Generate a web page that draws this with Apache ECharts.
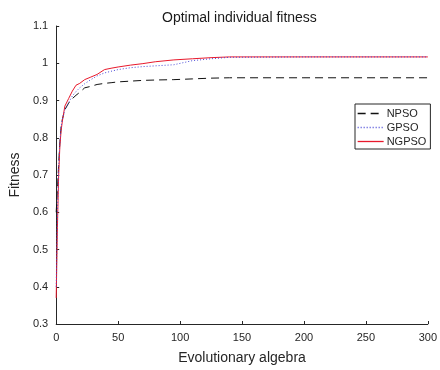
<!DOCTYPE html>
<html>
<head>
<meta charset="utf-8">
<script src="https://cdn.jsdelivr.net/npm/echarts@6/dist/echarts.min.js"></script>
<style>html,body{margin:0;padding:0;background:#fff}#c{width:440px;height:370px}</style>
</head>
<body>
<div id="c"></div>
<script>
const generations = [0, 1, 2, 3, 4, 5, 7, 10, 13, 16, 19, 23, 28, 33, 39, 45, 50, 60, 70, 80, 95, 110, 125, 140, 200, 300];
const npso  = [0.60, 0.66, 0.73, 0.79, 0.83, 0.85, 0.875, 0.893, 0.905, 0.914, 0.922, 0.934, 0.938, 0.943, 0.946, 0.948, 0.950, 0.952, 0.954, 0.955, 0.956, 0.958, 0.960, 0.961, 0.961, 0.961];
const gpso  = [0.40, 0.60, 0.72, 0.79, 0.83, 0.85, 0.875, 0.894, 0.912, 0.924, 0.934, 0.945, 0.956, 0.966, 0.974, 0.979, 0.983, 0.988, 0.991, 0.993, 0.996, 1.007, 1.012, 1.016, 1.017, 1.017];
const ngpso = [0.37, 0.56, 0.70, 0.78, 0.82, 0.845, 0.885, 0.905, 0.925, 0.941, 0.946, 0.956, 0.963, 0.970, 0.983, 0.987, 0.990, 0.995, 0.999, 1.004, 1.009, 1.012, 1.015, 1.017, 1.017, 1.017];
const seriesNames = ['NPSO', 'GPSO', 'NGPSO'];
const xTicks = [0, 50, 100, 150, 200, 250, 300];
const yTicks = [0.3, 0.4, 0.5, 0.6, 0.7, 0.8, 0.9, 1.0, 1.1];

const pair = (ys) => generations.map((g, i) => [g, ys[i]]);
const axisColor = '#262626';
const font = 'Liberation Sans, Arial, sans-serif';
const colors = ['#111111', '#4a4ad8', '#e8192c'];
const dashes = [[8, 5], [1, 2], 'solid'];

const chart = echarts.init(document.getElementById('c'), null, {renderer: 'canvas'});
chart.setOption({
  animation: false,
  backgroundColor: '#fff',
  color: colors,
  title: {
    text: 'Optimal individual fitness',
    left: 157, top: 6,
    textStyle: {fontSize: 14, fontWeight: 'normal', color: '#1a1a1a', fontFamily: font}
  },
  grid: {left: 52, right: 7, top: 26, bottom: 44, containLabel: false},
  legend: {
    data: seriesNames,
    orient: 'vertical',
    left: 355, top: 104,
    itemWidth: 26, itemHeight: 11, itemGap: 3,
    padding: [4, 4, 2, 2],
    borderColor: axisColor, borderWidth: 1,
    backgroundColor: '#fff',
    itemStyle: {opacity: 0},
    lineStyle: {width: 1.3, color: 'inherit', type: 'inherit', opacity: 1},
    textStyle: {fontSize: 11, color: axisColor, fontFamily: font, padding: [0, 0, 0, -2]}
  },
  xAxis: {
    type: 'value', min: xTicks[0], max: xTicks[xTicks.length - 1], interval: 50,
    name: 'Evolutionary algebra', nameLocation: 'middle', nameGap: 27,
    nameTextStyle: {fontSize: 14, color: axisColor, fontFamily: font},
    axisLine: {show: true, lineStyle: {color: axisColor, width: 1}},
    axisTick: {show: true, inside: true, length: 3, lineStyle: {color: axisColor}},
    axisLabel: {fontSize: 11, color: axisColor, fontFamily: font, margin: 8},
    splitLine: {show: false}
  },
  yAxis: {
    type: 'value', min: yTicks[0], max: yTicks[yTicks.length - 1], interval: 0.1,
    name: 'Fitness', nameLocation: 'middle', nameGap: 26,
    nameTextStyle: {fontSize: 14, color: axisColor, fontFamily: font},
    axisLine: {show: true, lineStyle: {color: axisColor, width: 1}},
    axisTick: {show: true, inside: true, length: 3, lineStyle: {color: axisColor}},
    axisLabel: {fontSize: 11, color: axisColor, fontFamily: font, margin: 8,
      formatter: (v) => String(Math.round(v * 10) / 10)},
    splitLine: {show: false}
  },
  series: [
    {name: seriesNames[0], type: 'line', data: pair(npso), symbol: 'none', z: 2,
     color: colors[0], lineStyle: {color: colors[0], width: 1, type: dashes[0]}},
    {name: seriesNames[1], type: 'line', data: pair(gpso), symbol: 'none', z: 4,
     color: colors[1], lineStyle: {color: colors[1], width: 1, type: dashes[1]}},
    {name: seriesNames[2], type: 'line', data: pair(ngpso), symbol: 'none', z: 3,
     color: colors[2], lineStyle: {color: colors[2], width: 1, type: dashes[2]}}
  ]
});
</script>
</body>
</html>
